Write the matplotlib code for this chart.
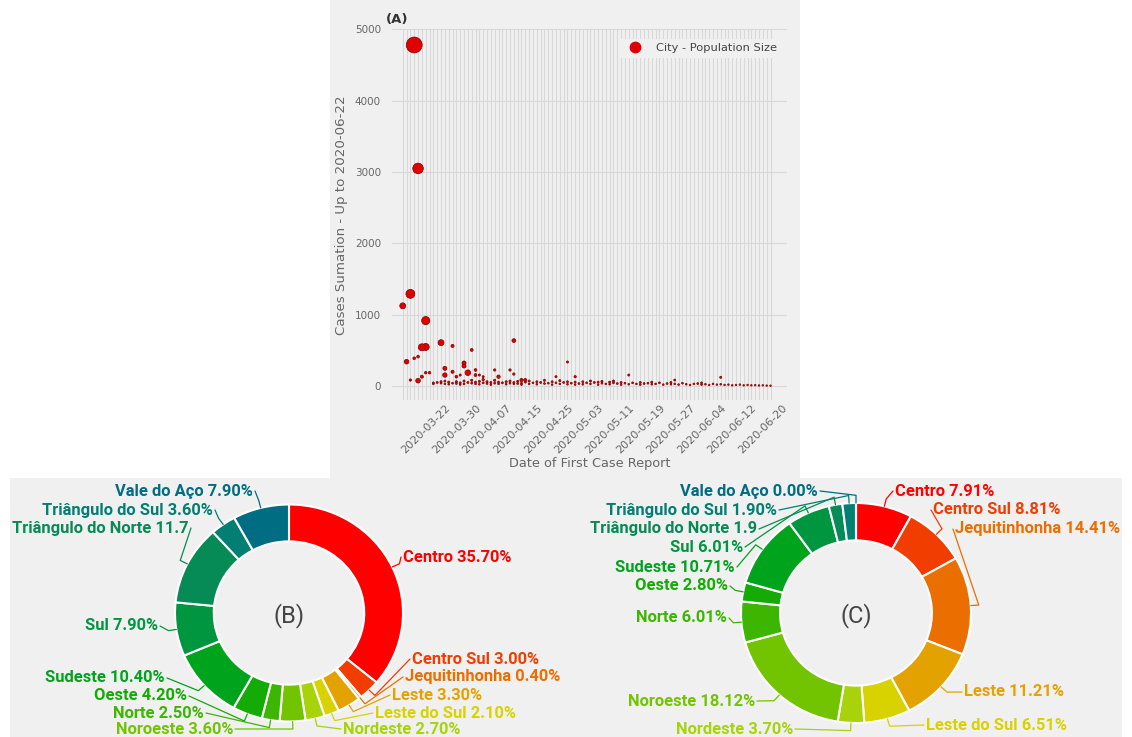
import numpy as np
import pandas as pd
import matplotlib
matplotlib.use('Agg')
import matplotlib.pyplot as plt
from matplotlib.patches import Rectangle
from matplotlib.lines import Line2D

# ---------------- Panel A data ----------------
all_days = pd.date_range('2020-03-16', '2020-06-22').strftime('%Y-%m-%d')
missing_days = ['2020-04-19', '2020-04-21']
cats = [d for d in all_days if d not in missing_days]
tick_every = 8
tick_first = 6

big_dates = ['03-16', '03-17', '03-18', '03-18', '03-19', '03-19', '03-20', '03-20', '03-20',
             '03-21', '03-21', '03-22', '03-22', '03-22', '03-23', '03-26', '03-27', '03-27',
             '03-29', '03-29', '03-30', '03-31', '04-01', '04-01', '04-02', '04-03', '04-04',
             '04-04', '04-05', '04-06', '04-09', '04-10', '04-13', '04-14', '04-14', '04-16',
             '04-17', '04-27', '04-30', '05-02', '05-16', '05-28', '06-09']
big_cases = [1124, 341, 1292, 84, 4780, 389, 3050, 412, 75,
             543, 131, 917, 548, 187, 187, 608, 248, 154,
             562, 200, 131, 154, 281, 323, 187, 506, 225,
             154, 154, 130, 225, 131, 225, 637, 168, 84,
             84, 131, 337, 131, 154, 84, 122]
big_pop = [340, 200, 780, 40, 2500, 60, 1100, 60, 200,
           480, 80, 650, 480, 50, 50, 340, 150, 180,
           80, 80, 60, 30, 150, 150, 300, 70, 60,
           70, 30, 30, 40, 100, 40, 130, 40, 90,
           80, 30, 30, 40, 30, 25, 30]

base_dates = ['03-24', '03-24', '03-25', '03-26', '03-26', '03-27', '03-27', '03-28', '03-28', '03-29',
              '03-30', '03-30', '03-31', '03-31', '04-01', '04-01', '04-02', '04-03', '04-03', '04-04',
              '04-04', '04-05', '04-05', '04-06', '04-06', '04-07', '04-07', '04-08', '04-08', '04-09',
              '04-09', '04-10', '04-10', '04-11', '04-12', '04-12', '04-13', '04-13', '04-14', '04-14',
              '04-15', '04-15', '04-16', '04-16', '04-17', '04-18', '04-18', '04-20', '04-22', '04-22',
              '04-23', '04-24', '04-24', '04-25', '04-26', '04-26', '04-27', '04-28', '04-28', '04-29',
              '04-30', '04-30', '05-01', '05-02', '05-02', '05-03', '05-04', '05-04', '05-05', '05-06',
              '05-06', '05-07', '05-08', '05-08', '05-09', '05-09', '05-10', '05-11', '05-11', '05-12',
              '05-12', '05-13', '05-14', '05-14', '05-15', '05-16', '05-17', '05-18', '05-19', '05-19',
              '05-20', '05-21', '05-22', '05-22', '05-23', '05-24', '05-25', '05-26', '05-27', '05-27',
              '05-28', '05-29', '05-30', '05-31', '06-01', '06-02', '06-03', '06-04', '06-04', '06-05',
              '06-06', '06-07', '06-08', '06-09', '06-10', '06-11', '06-12', '06-13', '06-14', '06-15',
              '06-16', '06-17', '06-18', '06-19', '06-20', '06-21', '06-22']
base_cases = [45, 30, 50, 40, 60, 30, 70, 55, 25, 40,
              35, 60, 45, 20, 70, 30, 50, 40, 80, 30,
              55, 65, 25, 45, 90, 35, 60, 50, 20, 80,
              40, 30, 55, 45, 60, 25, 40, 70, 50, 30,
              65, 35, 40, 20, 55, 30, 70, 45, 25, 60,
              50, 35, 80, 40, 20, 60, 45, 30, 75, 50,
              25, 60, 40, 55, 20, 35, 60, 25, 45, 30,
              70, 50, 20, 55, 40, 65, 30, 55, 25, 45,
              70, 35, 20, 50, 40, 25, 45, 30, 50, 20,
              35, 40, 25, 55, 30, 45, 20, 35, 50, 25,
              30, 20, 40, 25, 15, 30, 35, 20, 45, 25,
              15, 30, 20, 25, 15, 20, 10, 15, 20, 10,
              15, 10, 12, 8, 10, 6, 5]
base_pop = [20, 15, 25, 20, 30, 15, 25, 30, 15, 20,
            20, 35, 25, 15, 30, 20, 25, 20, 35, 15,
            25, 30, 15, 25, 40, 20, 30, 25, 15, 35,
            20, 15, 25, 25, 30, 15, 20, 30, 25, 15,
            30, 20, 20, 15, 25, 15, 30, 20, 15, 25,
            25, 20, 30, 20, 15, 25, 20, 15, 30, 25,
            15, 25, 20, 25, 15, 20, 25, 15, 20, 15,
            30, 25, 15, 25, 20, 30, 15, 25, 15, 20,
            30, 20, 15, 25, 20, 15, 20, 15, 25, 15,
            20, 20, 15, 25, 15, 20, 15, 20, 25, 15,
            15, 15, 20, 15, 10, 15, 20, 15, 20, 15,
            10, 15, 10, 15, 10, 10, 10, 10, 10, 10,
            10, 10, 10, 10, 10, 10, 10]

# ---------------- Panels B / C data ----------------
regions = ['Centro', 'Centro Sul', 'Jequitinhonha', 'Leste', 'Leste do Sul', 'Nordeste',
           'Noroeste', 'Norte', 'Oeste', 'Sudeste', 'Sul', 'Triângulo do Norte',
           'Triângulo do Sul', 'Vale do Aço']
share_B = [35.70, 3.00, 0.40, 3.30, 2.10, 2.70, 3.60, 2.50, 4.20, 10.40, 7.90, 11.70, 3.60, 7.90]
share_C = [7.91, 8.81, 14.41, 11.21, 6.51, 3.70, 18.12, 6.01, 2.80, 10.71, 6.01, 1.90, 1.90, 0.00]
region_colors = ['#ff0000', '#f23d00', '#eb6e00', '#e3a200', '#d8d200', '#a8d20a', '#72c400',
                 '#3cb600', '#14ab05', '#00a31c', '#009640', '#068a56', '#007f72', '#006d82']

# ---------------- Figure ----------------
W, H = 1132, 737
fig = plt.figure(figsize=(W / 100, H / 100), dpi=100, facecolor='white')
panel = '#f0f0f0'
fig.add_artist(Rectangle((330 / W, 1 - 478 / H), 470 / W, 478 / H, transform=fig.transFigure,
                         facecolor=panel, edgecolor='none', zorder=-5))
fig.add_artist(Rectangle((10 / W, 0), 1112 / W, 1 - 478 / H, transform=fig.transFigure,
                         facecolor=panel, edgecolor='none', zorder=-5))

# ---- Panel A ----
axA = fig.add_axes([392 / W, 1 - 400.3 / H, 395 / W, 371 / H])
axA.set_facecolor(panel)
for s in axA.spines.values():
    s.set_visible(False)
axA.plot(cats, [np.nan] * len(cats))  # register categories in order

pts_x = ['2020-' + d for d in base_dates + big_dates]
pts_y = base_cases + big_cases
pts_p = np.array(base_pop + big_pop, dtype=float)
order = np.argsort(-pts_p)
sizes = 0.8 + pts_p * 0.052
axA.scatter([pts_x[i] for i in order], [pts_y[i] for i in order], s=sizes[order],
            facecolor='#e00000', edgecolor='#800000', linewidth=0.5, zorder=3)

axA.set_xticks(range(len(cats)))
axA.set_xticklabels([c if (i - tick_first) % tick_every == 0 and i >= tick_first else ''
                     for i, c in enumerate(cats)], rotation=45, ha='center', fontsize=8,
                    color='#666666')
axA.set_xlim(-2.8, 100.3)
axA.set_ylim(-200, 5000)
axA.set_yticks([0, 1000, 2000, 3000, 4000, 5000])
axA.tick_params(axis='y', labelsize=7.5, labelcolor='#666666', length=0, pad=8)
axA.tick_params(axis='x', length=0, pad=2)
axA.grid(True, color='#d8d8d8', linewidth=0.8)
axA.set_axisbelow(True)
axA.set_ylabel('Cases Sumation - Up to 2020-06-22', fontsize=9.6, color='#666666', labelpad=5)
axA.set_xlabel('Date of First Case Report', fontsize=9.3, color='#666666', labelpad=1)
h = Line2D([], [], marker='o', ls='', markersize=7.5, markerfacecolor='#e00000',
           markeredgecolor='#e00000')
axA.legend([h], ['City - Population Size'], loc='upper right', bbox_to_anchor=(1.0, 0.99),
           fontsize=8.2, frameon=True, facecolor=panel, edgecolor='none', framealpha=1,
           handletextpad=0.8, labelcolor='#444444')
fig.text(386 / W, 1 - 20 / H, '(A)', fontsize=9.5, fontweight='bold', color='#333333',
         ha='left', va='center')

# ---- overlay axes in pixel coordinates ----
ov = fig.add_axes([0, 0, 1, 1], zorder=5)
ov.set_xlim(0, W)
ov.set_ylim(H, 0)
ov.axis('off')
ov.patch.set_alpha(0)

label_font = dict(family=['Roboto', 'DejaVu Sans'], fontsize=11.9, fontweight='bold')


def donut(cx, cy, rx, ry, vals, label_pos, tag):
    m = 1.1
    ax = fig.add_axes([(cx - rx * m) / W, (H - cy - ry * m) / H, 2 * rx * m / W, 2 * ry * m / H])
    wedges, _ = ax.pie(vals, colors=region_colors, startangle=90, counterclock=False,
                       wedgeprops=dict(width=0.34, edgecolor='white', linewidth=1.5))
    ax.set_aspect('auto')
    ax.set_xlim(-m, m)
    ax.set_ylim(-m, m)
    ax.axis('off')
    for w, name, v, col, (tx, ty, ha) in zip(wedges, regions, vals, region_colors, label_pos):
        ang = np.deg2rad((w.theta1 + w.theta2) / 2)
        x0, y0 = cx + rx * np.cos(ang), cy - ry * np.sin(ang)
        x1, y1 = cx + rx * 1.07 * np.cos(ang), cy - ry * 1.07 * np.sin(ang)
        ex = tx - 2 if ha == 'left' else tx + 2
        ov.plot([x0, x1, ex], [y0, y1, ty], color=col, lw=0.9, solid_capstyle='round')
        txt = f'{name} {v:.2f}%'
        if name == 'Triângulo do Norte':
            txt = txt[:-2]
        ov.text(tx, ty, txt, ha=ha, va='center', color=col, **label_font)
    ov.text(cx, cy + 3, tag, ha='center', va='center', fontsize=17, color='#444444',
            family=['Roboto', 'DejaVu Sans'])


pos_B = [(403, 557, 'left'), (412, 659, 'left'), (405, 677, 'left'), (392, 695, 'left'),
         (375, 713, 'left'), (343, 729, 'left'), (233, 729, 'right'), (204, 713, 'right'),
         (187, 696, 'right'), (165, 678, 'right'), (158, 626, 'right'), (189, 528, 'right'),
         (213, 510, 'right'), (253, 491, 'right')]
pos_C = [(895, 491, 'left'), (933, 510, 'left'), (955, 529, 'left'), (964, 692, 'left'),
         (926, 725, 'left'), (793, 729, 'right'), (755, 701, 'right'), (727, 618, 'right'),
         (728, 586, 'right'), (735, 567, 'right'), (743, 547, 'right'), (757, 529, 'right'),
         (777, 510, 'right'), (818, 491, 'right')]

donut(289, 613, 114, 108.5, share_B, pos_B, '(B)')
donut(856, 613, 115, 110, share_C, pos_C, '(C)')

ov.add_patch(Rectangle((0, 478), 10, H - 478, facecolor='white', edgecolor='none', zorder=10))

fig.savefig('out.png', dpi=100, facecolor=fig.get_facecolor())
